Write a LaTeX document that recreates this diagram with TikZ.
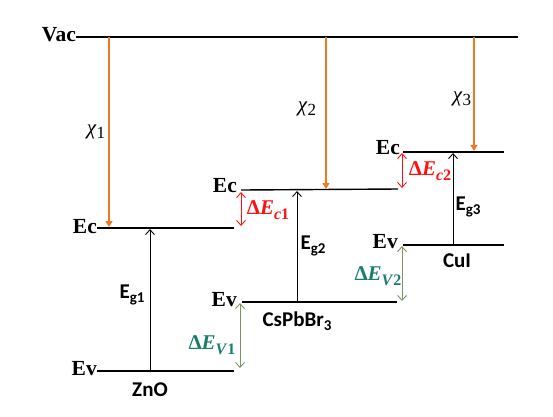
\documentclass[tikz,border=0pt]{standalone}
\usepackage{fontspec}
\setmainfont{Liberation Serif}
\newfontfamily\calib{Carlito}
\usetikzlibrary{arrows.meta}
\definecolor{chiorange}{HTML}{F07820}
\definecolor{offred}{HTML}{FF1010}
\definecolor{olivearr}{HTML}{7E9260}
\definecolor{tealtxt}{HTML}{197F6D}
\newcommand{\chisub}[1]{\textit{χ}\raisebox{-4pt}{\fontsize{17}{17}\selectfont #1}}
\newcommand{\egsub}[1]{E\raisebox{-4pt}{\fontsize{15}{15}\selectfont g#1}}
\newcommand{\dsub}[2]{Δ\textit{E}\raisebox{-5pt}{\fontsize{16}{16}\selectfont\textit{#1}#2}}
\tikzset{
  level/.style={line width=1.4pt, black},
  chiarr/.style={chiorange, line width=1.3pt, -{Triangle[length=6pt,width=7pt]}},
  gaparr/.style={black, line width=0.9pt, -{Straight Barb[length=5pt,width=9pt]}},
  dcarr/.style={offred, line width=0.9pt, {Straight Barb[length=5pt,width=9pt]}-{Straight Barb[length=5pt,width=9pt]}},
  dvarr/.style={olivearr, line width=0.9pt, {Straight Barb[length=5pt,width=9pt]}-{Straight Barb[length=5pt,width=9pt]}},
  lvlname/.style={font=\fontsize{21.5}{21.5}\selectfont\bfseries, inner sep=0pt, anchor=east},
  sans/.style={font=\calib\bfseries\fontsize{21}{21}\selectfont, inner sep=0pt},
  chilbl/.style={font=\fontsize{21}{21}\selectfont, inner sep=0pt},
  dclbl/.style={font=\fontsize{21}{21}\selectfont\bfseries, text=offred, inner sep=0pt},
  dvlbl/.style={font=\fontsize{21}{21}\selectfont\bfseries, text=tealtxt, inner sep=0pt},
}
\begin{document}
\begin{tikzpicture}[x=1pt,y=-1pt]
\useasboundingbox (0,0) rectangle (553,416);
% Vacuum
\node[lvlname] (vac) at (76,35) {Vac};
\coordinate (vacR) at (518,37);
\draw[level] (vac.east |- vacR) -- (vacR);
% ZnO
\node[lvlname] (ec1) at (97,227) {Ec};
\coordinate (ec1R) at (234,228);
\draw[level] (ec1.east |- ec1R) -- (ec1R);
\node[lvlname] (ev1) at (97,369) {Ev};
\coordinate (ev1R) at (234,371);
\draw[level] (ev1.east |- ev1R) -- (ev1R);
% CsPbBr3
\node[lvlname] (ec2) at (237,186) {Ec};
\coordinate (ec2L) at (241,190);
\coordinate (ec2R) at (398,189);
\draw[level] (ec2L) -- (ec2R);
\node[lvlname] (ev2) at (237,300) {Ev};
\coordinate (ev2L) at (242,302);
\coordinate (ev2R) at (397,302);
\draw[level] (ev2L) -- (ev2R);
% CuI
\node[lvlname] (ec3) at (400,148) {Ec};
\coordinate (ec3L) at (403,152);
\coordinate (ec3R) at (504,152);
\draw[level] (ec3L) -- (ec3R);
\node[lvlname] (ev3) at (398,242) {Ev};
\coordinate (ev3L) at (403,245);
\coordinate (ev3R) at (504,245);
\draw[level] (ev3L) -- (ev3R);
% electron affinity arrows
\coordinate (x1t) at (109,37);  \coordinate (x1b) at (109,227);
\coordinate (x2t) at (326,37);  \coordinate (x2b) at (326,189);
\coordinate (x3t) at (474,37);  \coordinate (x3b) at (474,151);
\draw[chiarr] (x1t) -- (x1b);
\draw[chiarr] (x2t) -- (x2b);
\draw[chiarr] (x3t) -- (x3b);
\node[chilbl] (chi1) at (96,132) {\chisub{1}};
\node[chilbl] (chi2) at (307,109) {\chisub{2}};
\node[chilbl] (chi3) at (462,99) {\chisub{3}};
% band gaps
\coordinate (g1b) at (150,371); \coordinate (g1t) at (150,229);
\coordinate (g2b) at (297,302); \coordinate (g2t) at (297,191);
\coordinate (g3b) at (453,245); \coordinate (g3t) at (453,153);
\draw[gaparr] (g1b) -- (g1t);
\draw[gaparr] (g2b) -- (g2t);
\draw[gaparr] (g3b) -- (g3t);
\node[sans] (eg1) at (132,295) {\egsub{1}};
\node[sans] (eg2) at (313,246) {\egsub{2}};
\node[sans] (eg3) at (468,207) {\egsub{3}};
% material names
\node[sans] (zno) at (150,390) {ZnO};
\node[sans] (csp) at (297,321) {CsPbBr\raisebox{-4pt}{\fontsize{15}{15}\selectfont 3}};
\node[sans] (cui) at (457,261) {CuI};
% offsets
\coordinate (dc1t) at (241,192); \coordinate (dc1b) at (241,226);
\coordinate (dc2t) at (402,153); \coordinate (dc2b) at (402,188);
\coordinate (dv1t) at (240,303); \coordinate (dv1b) at (240,368);
\coordinate (dv2t) at (402,246); \coordinate (dv2b) at (402,301);
\draw[dcarr] (dc1t) -- (dc1b);
\draw[dcarr] (dc2t) -- (dc2b);
\draw[dvarr] (dv1t) -- (dv1b);
\draw[dvarr] (dv2t) -- (dv2b);
\node[dclbl] (ldc1) at (268,210) {\dsub{c}{1}};
\node[dclbl] (ldc2) at (430,171) {\dsub{c}{2}};
\node[dvlbl] (ldv1) at (212,345) {\dsub{V}{1}};
\node[dvlbl] (ldv2) at (378,276) {\dsub{V}{2}};
\end{tikzpicture}
\end{document}
